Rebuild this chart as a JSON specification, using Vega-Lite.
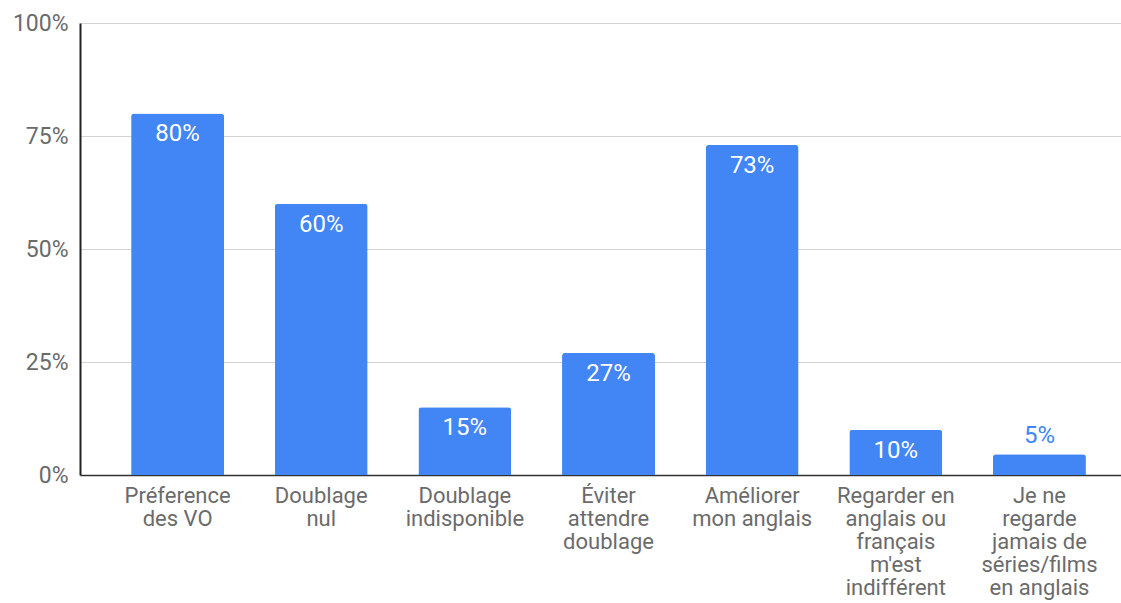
{
  "$schema": "https://vega.github.io/schema/vega-lite/v6.json",
  "autosize": {"type": "none"},
  "width": 1041,
  "height": 452,
  "padding": {"left": 80, "top": 23, "right": 0, "bottom": 128},
  "background": "white",
  "config": {
    "font": "Roboto",
    "view": {"stroke": null}
  },
  "data": {
    "values": [
      {"raison": "Préference\ndes VO", "part": 0.80},
      {"raison": "Doublage\nnul", "part": 0.60},
      {"raison": "Doublage\nindisponible", "part": 0.15},
      {"raison": "Éviter\nattendre\ndoublage", "part": 0.27},
      {"raison": "Améliorer\nmon anglais", "part": 0.73},
      {"raison": "Regarder en\nanglais ou\nfrançais\nm'est\nindifférent", "part": 0.10},
      {"raison": "Je ne\nregarde\njamais de\nséries/films\nen anglais", "part": 0.046}
    ]
  },
  "encoding": {
    "x": {
      "field": "raison",
      "type": "nominal",
      "sort": null,
      "scale": {"paddingInner": 0.353, "paddingOuter": 0.3, "align": 0.593},
      "axis": {
        "title": null,
        "labelAngle": 0,
        "labelExpr": "split(datum.label, '\\n')",
        "labelFont": "Roboto",
        "labelFontSize": 22,
        "labelLineHeight": 23,
        "labelColor": "#6b6b6b",
        "labelPadding": 10,
        "ticks": false,
        "domainColor": "#333333",
        "domainWidth": 1.5,
        "labelLimit": 400
      }
    },
    "y": {
      "field": "part",
      "type": "quantitative",
      "scale": {"domain": [0, 1], "nice": false},
      "axis": {
        "title": null,
        "values": [0, 0.25, 0.5, 0.75, 1],
        "format": ".0%",
        "labelFont": "Roboto",
        "labelFontSize": 23,
        "labelColor": "#6b6b6b",
        "labelPadding": 12,
        "ticks": false,
        "domainColor": "#222222",
        "domainWidth": 2,
        "gridColor": "#d4d4d4",
        "gridWidth": 1.2
      }
    }
  },
  "layer": [
    {
      "mark": {"type": "bar", "color": "#4285F4", "cornerRadiusTopLeft": 3, "cornerRadiusTopRight": 3}
    },
    {
      "transform": [{"filter": "datum.part >= 0.08"}],
      "mark": {"type": "text", "baseline": "top", "dy": 9, "color": "white", "fontSize": 24, "fontWeight": "normal", "font": "Roboto"},
      "encoding": {"text": {"field": "part", "type": "quantitative", "format": ".0%"}}
    },
    {
      "transform": [{"filter": "datum.part < 0.08"}],
      "mark": {"type": "text", "baseline": "bottom", "dy": -6, "color": "#4285F4", "fontSize": 24, "fontWeight": "normal", "font": "Roboto"},
      "encoding": {"text": {"field": "part", "type": "quantitative", "format": ".0%"}}
    }
  ]
}
